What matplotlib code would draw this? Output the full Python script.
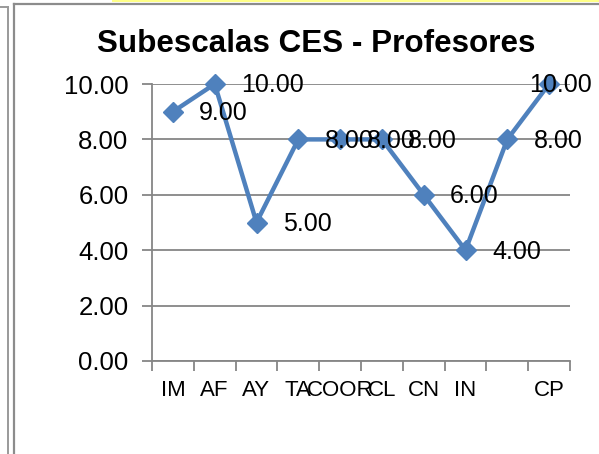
import matplotlib
matplotlib.use("Agg")
import matplotlib.pyplot as plt
from matplotlib.lines import Line2D
from matplotlib.patches import Rectangle

plt.rcParams["font.family"] = ["Liberation Sans", "DejaVu Sans"]

# data
categories = ["IM", "AF", "AY", "TA", "COOR", "CL", "CN", "IN", "", "CP"]
values = [9, 10, 5, 8, 8, 8, 6, 4, 8, 10]
y_ticks = [0, 2, 4, 6, 8, 10]

BLUE = "#4F81BD"
GRID = "#868686"

W, H = 599, 454
fig = plt.figure(figsize=(W / 100, H / 100), dpi=100)

# frame bits around the chart (screenshot edges)
fig.add_artist(Rectangle((112 / W, 1 - 2 / H), 1, 2 / H, transform=fig.transFigure,
                         color="#FFFF88", lw=0))
fig.add_artist(Line2D([14 / W, 1], [1 - 3.5 / H, 1 - 3.5 / H], transform=fig.transFigure,
                      color="#8C8C8C", lw=1.6))
fig.add_artist(Line2D([14 / W, 14 / W], [0, 1 - 3.5 / H], transform=fig.transFigure,
                      color="#8C8C8C", lw=1.6))
fig.add_artist(Line2D([7.5 / W, 7.5 / W], [0, 1 - 7 / H], transform=fig.transFigure,
                      color="#9A9A9A", lw=1.4))
fig.add_artist(Line2D([0, 7.5 / W], [1 - 7 / H, 1 - 7 / H], transform=fig.transFigure,
                      color="#9A9A9A", lw=1.4))

ax = fig.add_axes([152 / W, 1 - 361 / H, 418 / W, 277 / H])

x = list(range(len(categories)))
ax.plot(x, values, color=BLUE, lw=3.2, marker="D", markersize=10,
        markerfacecolor=BLUE, markeredgecolor=BLUE, zorder=3, clip_on=False)

for i, v in enumerate(values):
    if i == len(values) - 1:
        # last label is pulled back inside the chart area
        ax.annotate(f"{v:.2f}", (i, v), xytext=(31, -1), textcoords="offset points",
                    ha="right", va="center", fontsize=18, zorder=4)
    else:
        ax.annotate(f"{v:.2f}", (i, v), xytext=(19, -1), textcoords="offset points",
                    ha="left", va="center", fontsize=18, zorder=4)

ax.set_xlim(-0.5, len(categories) - 0.5)
ax.set_ylim(0, 10)
ax.set_yticks(y_ticks)
ax.set_yticklabels([f"{t:.2f}" for t in y_ticks], fontsize=18.5)
ax.yaxis.grid(True, color=GRID, lw=1.3)
ax.set_axisbelow(True)

# category ticks between categories, labels centred on categories
ax.set_xticks([i - 0.5 for i in range(len(categories) + 1)])
ax.set_xticklabels([])
ax.set_xticks(x, minor=True)
ax.set_xticklabels(categories, minor=True, fontsize=16)
ax.tick_params(axis="x", which="minor", length=0, pad=13.5)
ax.tick_params(axis="x", which="major", length=7, color=GRID, width=1.3, direction="out")
ax.tick_params(axis="y", length=7, color=GRID, width=1.3, pad=10)

for side in ["top", "right"]:
    ax.spines[side].set_visible(False)
for side in ["left", "bottom"]:
    ax.spines[side].set_color(GRID)
    ax.spines[side].set_linewidth(1.3)

fig.text(316 / W, 1 - 44 / H, "Subescalas CES - Profesores", fontsize=22.6,
         fontweight="bold", ha="center", va="center")

fig.savefig("out.png", dpi=100)
